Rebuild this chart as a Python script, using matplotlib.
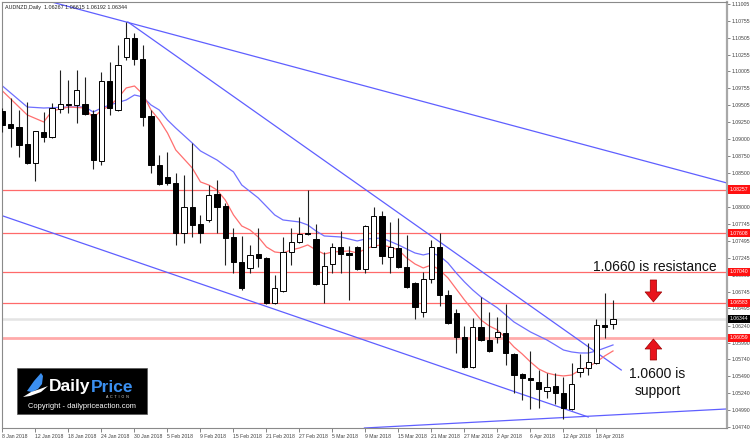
"""AUDNZD daily candlestick chart with S/R levels, trendlines and notes."""

import numpy as np
import pandas as pd
import matplotlib
matplotlib.use("Agg")
import matplotlib.pyplot as plt
from matplotlib.patches import Rectangle, Polygon

plt.rcParams["font.family"] = ["Liberation Sans", "DejaVu Sans"]

# ── Data ─────────────────────────────────────────────────────────────────────

dates = pd.bdate_range("2018-01-08", "2018-04-20")

opens = [1.09420, 1.09228, 1.09183, 1.08931, 1.08650, 1.09109, 1.09035, 1.09450,
         1.09524, 1.09509, 1.09524, 1.09376, 1.08680, 1.09864, 1.09435, 1.10220,
         1.10501, 1.10190, 1.09346, 1.08620, 1.08443, 1.08354, 1.07613, 1.07998,
         1.07747, 1.07806, 1.08191, 1.08013, 1.07554, 1.07184, 1.07095, 1.07302,
         1.07243, 1.06577, 1.06754, 1.07332, 1.07480, 1.07613, 1.07524, 1.06858,
         1.07154, 1.07406, 1.07317, 1.07406, 1.07080, 1.07406, 1.07865, 1.07258,
         1.07391, 1.07110, 1.06873, 1.06443, 1.06932, 1.07406, 1.06694, 1.06428,
         1.06073, 1.05629, 1.06221, 1.06028, 1.06073, 1.06132, 1.05821, 1.05525,
         1.05466, 1.05407, 1.05273, 1.05347, 1.05244, 1.05007, 1.05555, 1.05614,
         1.05688, 1.06251, 1.06267]
highs = [1.09464, 1.09613, 1.09435, 1.09553, 1.09130, 1.09405, 1.09539, 1.10027,
         1.09879, 1.10027, 1.09924, 1.09435, 1.09998, 1.10146, 1.10398, 1.10738,
         1.10575, 1.10398, 1.09435, 1.08768, 1.08813, 1.08502, 1.08472, 1.08946,
         1.07880, 1.08324, 1.08398, 1.08058, 1.07687, 1.07569, 1.07436, 1.07687,
         1.07258, 1.06991, 1.07554, 1.07687, 1.07850, 1.08250, 1.07747, 1.07332,
         1.07465, 1.07643, 1.07421, 1.07415, 1.07732, 1.07998, 1.07939, 1.07776,
         1.07835, 1.07584, 1.06888, 1.07036, 1.07510, 1.07613, 1.06769, 1.06488,
         1.06236, 1.06354, 1.06665, 1.06443, 1.06369, 1.06562, 1.05836, 1.05540,
         1.05866, 1.05584, 1.05540, 1.05540, 1.05481, 1.05688, 1.05821, 1.05984,
         1.06340, 1.06725, 1.06615]
lows = [1.09109, 1.08887, 1.08739, 1.08640, 1.08383, 1.08961, 1.09020, 1.09390,
        1.09390, 1.09242, 1.09361, 1.08561, 1.08620, 1.09361, 1.09420, 1.10175,
        1.10101, 1.09198, 1.08502, 1.08324, 1.08324, 1.07436, 1.07465, 1.07554,
        1.07465, 1.07776, 1.07613, 1.07139, 1.07021, 1.06769, 1.07021, 1.07110,
        1.06562, 1.06562, 1.06740, 1.07139, 1.07465, 1.07584, 1.06850, 1.06577,
        1.07021, 1.07021, 1.06621, 1.07065, 1.07021, 1.07400, 1.07154, 1.07021,
        1.07100, 1.06805, 1.06340, 1.06369, 1.06873, 1.06532, 1.06266, 1.05836,
        1.05614, 1.05620, 1.06014, 1.05851, 1.05984, 1.05658, 1.05244, 1.05140,
        1.05007, 1.05022, 1.05170, 1.05081, 1.04859, 1.04992, 1.05481, 1.05510,
        1.05680, 1.06058, 1.06192]
closes = [1.09213, 1.09168, 1.08916, 1.08650, 1.09124, 1.09035, 1.09464, 1.09524,
          1.09509, 1.09731, 1.09376, 1.08694, 1.09864, 1.09464, 1.10101, 1.10501,
          1.10190, 1.09331, 1.08620, 1.08339, 1.08354, 1.07613, 1.07998, 1.07732,
          1.07613, 1.08176, 1.07998, 1.07539, 1.07184, 1.06799, 1.07288, 1.07243,
          1.06577, 1.06799, 1.07332, 1.07480, 1.07598, 1.07598, 1.06858, 1.07125,
          1.07406, 1.07302, 1.07288, 1.07080, 1.07717, 1.07865, 1.07273, 1.07406,
          1.07110, 1.06814, 1.06517, 1.06932, 1.07406, 1.06694, 1.06280, 1.06073,
          1.05629, 1.06221, 1.06028, 1.05866, 1.06147, 1.05836, 1.05510, 1.05466,
          1.05436, 1.05303, 1.05333, 1.05244, 1.05022, 1.05377, 1.05614, 1.05703,
          1.06251, 1.06221, 1.06344]

# moving averages (bar index, value)
red_ma_idx = [0, 3, 5, 6, 8, 10, 11, 12, 13, 14, 15, 16, 17, 18, 19, 20, 21, 23,
              24, 25, 26, 27, 28, 29, 30, 31, 32, 33, 34, 35, 36, 37, 38, 39, 40,
              42, 43, 44, 45, 46, 47, 48, 49, 50, 51, 52, 53, 54, 55, 56, 57, 58,
              59, 60, 61, 62, 63, 64, 65, 66, 67, 68, 69, 70, 71, 72, 73, 74]
red_ma_val = [1.09716, 1.09361, 1.09257, 1.09420, 1.09479, 1.09464, 1.09316,
              1.09435, 1.09494, 1.09613, 1.09761, 1.09790, 1.09672, 1.09435,
              1.09287, 1.09094, 1.08843, 1.08576, 1.08369, 1.08324, 1.08250,
              1.08102, 1.07880, 1.07717, 1.07658, 1.07554, 1.07406, 1.07332,
              1.07317, 1.07362, 1.07391, 1.07436, 1.07362, 1.07302, 1.07332,
              1.07347, 1.07317, 1.07376, 1.07421, 1.07436, 1.07406, 1.07362,
              1.07243, 1.07154, 1.07095, 1.07139, 1.07065, 1.06947, 1.06784,
              1.06621, 1.06473, 1.06325, 1.06236, 1.06177, 1.06058, 1.05925,
              1.05821, 1.05703, 1.05599, 1.05540, 1.05510, 1.05496, 1.05510,
              1.05584, 1.05629, 1.05703, 1.05792, 1.05866]
blue_ma_idx = [0, 3, 5, 8, 10, 11, 12, 13, 15, 16, 17, 18, 19, 20, 21, 23, 24,
               26, 28, 29, 31, 33, 34, 36, 37, 38, 39, 41, 43, 44, 46, 48, 49, 50,
               51, 52, 53, 54, 55, 56, 57, 58, 60, 61, 62, 64, 66, 67, 68, 69, 70,
               71, 72, 73, 74]
blue_ma_val = [1.09790, 1.09479, 1.09464, 1.09479, 1.09479, 1.09405, 1.09464,
               1.09509, 1.09583, 1.09657, 1.09628, 1.09509, 1.09435, 1.09287,
               1.09168, 1.08946, 1.08828, 1.08694, 1.08517, 1.08324, 1.08132,
               1.07880, 1.07806, 1.07776, 1.07732, 1.07643, 1.07569, 1.07554,
               1.07495, 1.07524, 1.07539, 1.07436, 1.07376, 1.07317, 1.07288,
               1.07317, 1.07273, 1.07169, 1.07021, 1.06888, 1.06769, 1.06665,
               1.06503, 1.06399, 1.06295, 1.06147, 1.06028, 1.05955, 1.05880,
               1.05851, 1.05836, 1.05836, 1.05866, 1.05910, 1.05955]

# trendlines: (x0, y0, x1, y1) in bar index / price
upper_line = (15.0, 1.10738, 87.8, 1.08354)      # extended both ways
steep_line = (15.2, 1.10738, 75.0, 1.05584)      # segment
lower_line = (-0.3, 1.07880, 71.0, 1.04888)      # segment
base_line = (55.4, 1.04799, 87.8, 1.05007)       # extended both ways

levels = [1.08257, 1.07608, 1.07040, 1.06583]
support_level = 1.06059
last_price = 1.06344

# 1.08250 sits under the 1.08257 marker in the reference, so it is left out
yticks = [1.11005, 1.10755, 1.10505, 1.10255, 1.10005, 1.09755, 1.09505, 1.09250,
          1.09000, 1.08750, 1.08500, 1.08000, 1.07745, 1.07495, 1.07245,
          1.06995, 1.06745, 1.06495, 1.06240, 1.05990, 1.05740, 1.05490, 1.05240,
          1.04990, 1.04740]

# ── Styling ─────────────────────────────────────────────────────────────────

W, H = 750, 441
RED_LINE = "#ff6a6a"
BLUE = "#5f5fff"
AX_TXT = "#404040"
TICK_FS = 3.7


def fx(x):
    return x / W


def fy(y):
    return 1 - y / H


fig = plt.figure(figsize=(W / 100, H / 100), dpi=100)
ax = fig.add_axes([fx(2), 13 / H, 725 / W, 426 / H])
ax.set_xlim(-0.06, 87.82)
ax.set_ylim(1.04725, 1.11034)

for side, sp in ax.spines.items():
    sp.set_color("#8a8a8a")
    sp.set_linewidth(0.8)
ax.spines["right"].set_color("#a8a8a8")
ax.spines["right"].set_linewidth(1.6)

# horizontal levels
ax.axhline(last_price, color="#e4e4e4", lw=1.8, zorder=1)
for lv in levels:
    ax.axhline(lv, color=RED_LINE, lw=0.9, zorder=1)
ax.axhline(support_level, color="#ffaaaa", lw=2.0, zorder=1)

# trendlines
ax.axline(upper_line[:2], upper_line[2:], color=BLUE, lw=0.9, zorder=2)
ax.axline(base_line[:2], base_line[2:], color=BLUE, lw=0.9, zorder=2)
for ln in (steep_line, lower_line):
    ax.plot([ln[0], ln[2]], [ln[1], ln[3]], color=BLUE, lw=0.9, zorder=2)

# moving averages
ax.plot(blue_ma_idx, blue_ma_val, color="#6f6fff", lw=0.9, zorder=2)
ax.plot(red_ma_idx, red_ma_val, color="#ff6f6f", lw=0.9, zorder=2)

# candles
o = np.array(opens)
c = np.array(closes)
x = np.arange(len(o))
up = c >= o
ax.vlines(x, lows, highs, color="#202020", lw=0.8, zorder=3)
body_lo = np.minimum(o, c)
body_h = np.maximum(np.abs(c - o), 0.00008)
ax.bar(x, body_h, width=0.62, bottom=body_lo,
       color=np.where(up, "white", "black"), edgecolor="black",
       linewidth=0.7, zorder=4)

# axes ticks
ax.yaxis.tick_right()
ax.set_yticks(yticks)
ax.set_yticklabels([f"{v:.5f}" for v in yticks])
ax.tick_params(axis="y", length=2, width=0.6, colors="#707070",
               labelcolor=AX_TXT, labelsize=TICK_FS, pad=1.5)

tick_pos = list(range(0, len(dates), 4))
ax.set_xticks(tick_pos)
ax.set_xticklabels([f"{dates[i].day} {dates[i]:%b %Y}" for i in tick_pos])
ax.tick_params(axis="x", length=3, width=0.6, colors="#707070",
               labelcolor=AX_TXT, labelsize=TICK_FS, pad=1.5)
for lab in ax.get_xticklabels():
    lab.set_ha("left")

# price labels on the right axis
ytr = ax.get_yaxis_transform()
for lv in levels + [support_level]:
    ax.text(1.0035, lv, f"{lv:.5f}", transform=ytr, ha="left", va="center",
            fontsize=TICK_FS, color="white", clip_on=False, zorder=6,
            bbox=dict(boxstyle="square,pad=0.3", fc="#ff1010", ec="none"))
ax.text(1.0035, last_price, f"{last_price:.5f}", transform=ytr, ha="left",
        va="center", fontsize=TICK_FS, color="white", clip_on=False, zorder=6,
        bbox=dict(boxstyle="square,pad=0.3", fc="black", ec="none"))

# header
ax.text(0.004, 0.992, "AUDNZD,Daily  1.06267 1.06615 1.06192 1.06344",
        transform=ax.transAxes, ha="left", va="top", fontsize=3.9,
        color="#202020")

# ── Annotations ──
ax.text(71.6, 1.07110, "1.0660 is resistance", ha="left", va="center",
        fontsize=10, color="#111111", zorder=6)
ax.text(79.4, 1.05400, "1.0600 is\nsupport", ha="center", va="center",
        fontsize=10, color="#111111", linespacing=1.25, zorder=6)
arrow_style = "simple,head_width=1.0,head_length=0.6,tail_width=0.38"
ax.annotate("", xy=(78.9, 1.06592), xytext=(78.9, 1.06917),
            arrowprops=dict(arrowstyle=arrow_style, fc="#e8141c",
                            ec="#9a0000", lw=0.5, mutation_scale=12,
                            shrinkA=0, shrinkB=0), zorder=6)
ax.annotate("", xy=(78.9, 1.06043), xytext=(78.9, 1.05732),
            arrowprops=dict(arrowstyle=arrow_style, fc="#e8141c",
                            ec="#9a0000", lw=0.5, mutation_scale=12,
                            shrinkA=0, shrinkB=0), zorder=6)

# ── Logo ──
fig.add_artist(Rectangle((fx(17), fy(414)), 130 / W, 46 / H,
                         transform=fig.transFigure, fc="black", ec="#555555",
                         lw=0.5, zorder=10))
wing = [(27, 391), (34, 381), (41, 373), (43, 376), (42, 384), (38, 389), (32, 392)]
fig.add_artist(Polygon([(fx(a), fy(b)) for a, b in wing], closed=True,
                       transform=fig.transFigure, fc="#3b8ff0", ec="none",
                       zorder=11))
swoosh = [(23, 397), (31, 392), (40, 389), (48, 386), (41, 392), (30, 396)]
fig.add_artist(Polygon([(fx(a), fy(b)) for a, b in swoosh], closed=True,
                       transform=fig.transFigure, fc="white", ec="none",
                       zorder=11))
daily = fig.text(fx(49), fy(387), "Daily", color="white", fontsize=12.5,
                 fontweight="bold", ha="left", va="center", zorder=12)
fig.canvas.draw()
daily_end = daily.get_window_extent().x1 / fig.dpi / fig.get_figwidth()
fig.text(daily_end, fy(387), "Price", color="#3b8ff0", fontsize=12.5,
         fontweight="bold", ha="left", va="center", zorder=12)
fig.text(fx(117), fy(397.5), "A  C  T  I  O  N", color="#dddddd", fontsize=2.6,
         ha="center", va="center", zorder=12)
fig.text(fx(82), fy(407), "Copyright - dailypriceaction.com", color="white",
         fontsize=5.4, ha="center", va="center", zorder=12)

fig.savefig("out.png", dpi=100, facecolor="white")
